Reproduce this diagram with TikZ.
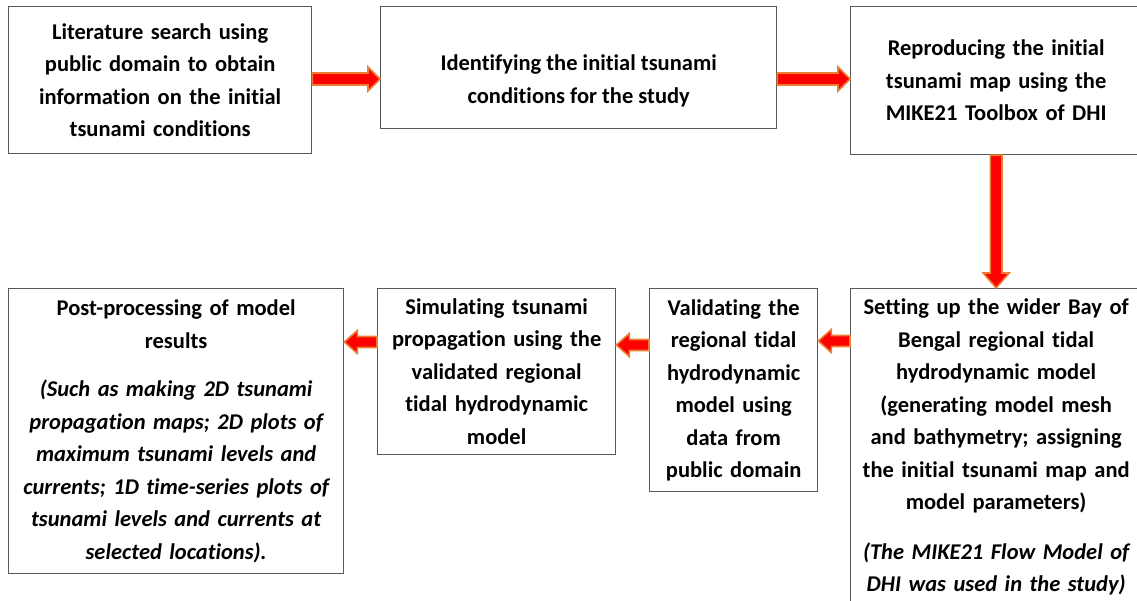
\documentclass[tikz,border=0pt]{standalone}
\usepackage{fontspec}
\setmainfont{Carlito}[Ligatures=NoCommon]
\usetikzlibrary{calc}
\definecolor{boxline}{HTML}{595959}
\definecolor{arrowborder}{HTML}{ED7D31}
\definecolor{arrowfill}{HTML}{FF0000}
\newlength{\bashaft}\newlength{\bahead}\newlength{\balen}
\newcommand{\blockarrow}[5]{% start, end, shaft half, head half, head length
  \setlength{\bashaft}{#3}\setlength{\bahead}{#4}\setlength{\balen}{#5}%
  \coordinate (ba-s) at (#1);
  \coordinate (ba-e) at (#2);
  \coordinate (ba-h) at ($(ba-e)!\balen!(ba-s)$);
  \draw[barrow] ($(ba-s)!\bashaft!90:(ba-e)$) -- ($(ba-h)!\bashaft!-90:(ba-s)$)
    -- ($(ba-h)!\bahead!-90:(ba-s)$) -- (ba-e) -- ($(ba-h)!\bahead!90:(ba-s)$)
    -- ($(ba-h)!\bashaft!90:(ba-s)$) -- ($(ba-s)!\bashaft!-90:(ba-e)$) -- cycle;}
\tikzset{
  box/.style={draw=boxline, line width=1.3pt, anchor=north west, inner sep=0pt,
    align=center, font=\fontsize{22.5}{32.5}\selectfont\bfseries},
  txt/.style={align=center, inner sep=0pt, font=\fontsize{22.5}{32.5}\selectfont\bfseries},
  barrow/.style={draw=arrowborder, fill=arrowfill, line width=1.6pt, line join=miter}
}
\begin{document}
\begin{tikzpicture}[x=1pt,y=-1pt]
\useasboundingbox (0,0) rectangle (1137,601);
% top row
\node[box, minimum width=303pt, minimum height=147pt, text width=295pt] (b1) at (8,6)
  {Literature search using\\ public domain to obtain\\ information on the initial\\ tsunami conditions};
\node[box, minimum width=396pt, minimum height=122pt] (b2) at (380,6) {};
\node[txt] (t2) at ($(b2.center)+(0,13)$) {Identifying the initial tsunami\\ conditions for the study};
\node[box, minimum width=291pt, minimum height=148pt, text width=283pt] (b3) at (850,6)
  {Reproducing the initial\\ tsunami map using the\\ MIKE21 Toolbox of DHI};
% bottom row
\node[box, minimum width=291pt, minimum height=317pt, text width=285pt] (b4) at (850,288)
  {Setting up the wider Bay of\\ Bengal regional tidal\\ hydrodynamic model\\ (generating model mesh\\ and bathymetry; assigning\\ the initial tsunami map and\\ model parameters)\\[17pt]
  \itshape (The MIKE21 Flow Model of\\ DHI was used in the study)};
\node[box, minimum width=168pt, minimum height=203pt, text width=164pt] (b5) at (649,288)
  {Validating the\\ regional tidal\\ hydrodynamic\\ model using\\ data from\\ public domain};
\node[box, minimum width=238pt, minimum height=166pt, text width=234pt] (b6) at (377,288)
  {Simulating tsunami\\ propagation using the\\ validated regional\\ tidal hydrodynamic\\ model};
\node[box, minimum width=335pt, minimum height=285pt, text width=331pt] (b7) at (8,288)
  {Post-processing of model\\ results\\[16pt]
  \itshape (Such as making 2D tsunami\\ propagation maps; 2D plots of\\ maximum tsunami levels and\\ currents; 1D time-series plots of\\ tsunami levels and currents at\\ selected locations).};
% connectors
\coordinate (c1s) at ($(b1.north east)+(0,73)$);
\coordinate (c1e) at (c1s -| b2.west);
\coordinate (c2s) at ($(b2.north east)+(0,73)$);
\coordinate (c2e) at (c2s -| b3.west);
\coordinate (c3s) at (b3.south);
\coordinate (c3e) at (b3.south |- b4.north);
\coordinate (c4s) at ($(b4.north west)+(0,53)$);
\coordinate (c4e) at (c4s -| b5.east);
\coordinate (c5s) at ($(b5.north west)+(0,57)$);
\coordinate (c5e) at (c5s -| b6.east);
\coordinate (c6s) at ($(b6.north west)+(0,54)$);
\coordinate (c6e) at (c6s -| b7.east);
\blockarrow{c1s}{c1e}{6pt}{12pt}{12pt}
\blockarrow{c2s}{c2e}{6pt}{12pt}{12pt}
\blockarrow{c3s}{c3e}{5.8pt}{13pt}{15pt}
\blockarrow{c4s}{c4e}{5.5pt}{11.5pt}{13pt}
\blockarrow{c5s}{c5e}{5.5pt}{11.5pt}{13pt}
\blockarrow{c6s}{c6e}{5.5pt}{11.5pt}{13pt}
\end{tikzpicture}
\end{document}
